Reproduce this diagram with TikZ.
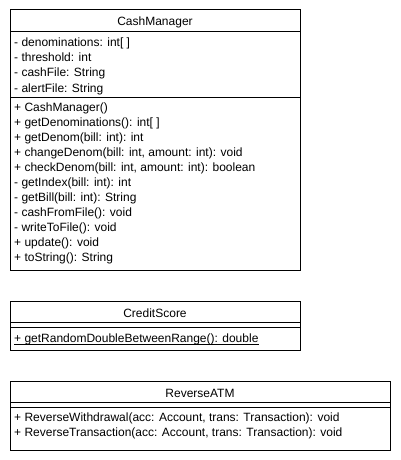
\documentclass[tikz,border=0pt]{standalone}
\usepackage{fontspec}
\setmainfont{Liberation Sans}
\begin{document}
\begin{tikzpicture}[x=1pt,y=-1pt,
  boxline/.style={draw=black,line width=1pt},
  member/.style={anchor=base west,inner sep=0pt,font=\fontsize{12}{14}\selectfont},
  title/.style={anchor=base,inner sep=0pt,font=\fontsize{12}{14}\selectfont}]
\useasboundingbox[fill=white] (0,0) rectangle (400,460);
% CashManager
\draw[boxline,fill=white] (10,10) rectangle (300,270);
\draw[boxline] (10,32) -- (300,32);
\draw[boxline] (10,97) -- (300,97);
\node[title] (cmt) at (155,26) {CashManager};
\node[member] (a1) at (14,47) {- denominations: int[ ]};
\node[member] (a2) at (14,62) {- threshold: int};
\node[member] (a3) at (14,77) {- cashFile: String};
\node[member] (a4) at (14,92) {- alertFile: String};
\node[member] (m1) at (14,111.5) {+ CashManager()};
\node[member] (m2) at (14,126.5) {+ getDenominations(): int[ ]};
\node[member] (m3) at (14,141.5) {+ getDenom(bill: int): int};
\node[member] (m4) at (14,156.5) {+ changeDenom(bill: int, amount: int): void};
\node[member] (m5) at (14,171.5) {+ checkDenom(bill: int, amount: int): boolean};
\node[member] (m6) at (14,186.5) {- getIndex(bill: int): int};
\node[member] (m7) at (14,201.5) {- getBill(bill: int): String};
\node[member] (m8) at (14,216.5) {- cashFromFile(): void};
\node[member] (m9) at (14,231.5) {- writeToFile(): void};
\node[member] (m10) at (14,246.5) {+ update(): void};
\node[member] (m11) at (14,261.5) {+ toString(): String};
% CreditScore
\draw[boxline,fill=white] (10,301) rectangle (300,350);
\draw[boxline] (10,322) -- (300,322);
\draw[boxline] (10,327) -- (300,327);
\node[title] (cst) at (155,317) {CreditScore};
\node[member] (c1) at (14,342) {+ getRandomDoubleBetweenRange(): double};
\draw[line width=0.8pt] ([yshift=-2pt]c1.base west) -- ([yshift=-2pt]c1.base east);
% ReverseATM
\draw[boxline,fill=white] (10,381) rectangle (390,450);
\draw[boxline] (10,402) -- (390,402);
\draw[boxline] (10,407) -- (390,407);
\node[title] (rat) at (200,397) {ReverseATM};
\node[member] (r1) at (14,421.5) {+ ReverseWithdrawal(acc: Account, trans: Transaction): void};
\node[member] (r2) at (14,436.5) {+ ReverseTransaction(acc: Account, trans: Transaction): void};
\end{tikzpicture}
\end{document}
